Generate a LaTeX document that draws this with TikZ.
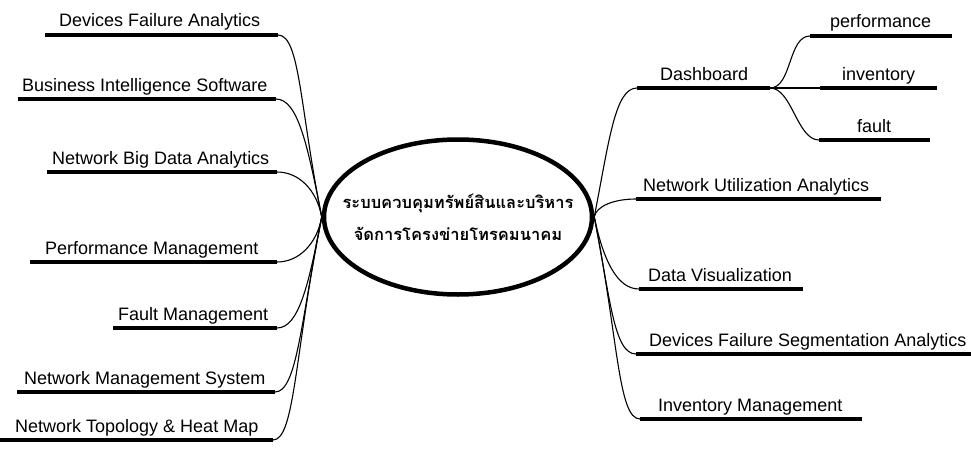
\documentclass[tikz,border=0pt]{standalone}
\usepackage{fontspec}
\setmainfont{Liberation Sans}
\newfontfamily\thaifont[Script=Thai]{Loma}
\usetikzlibrary{shapes.geometric}
\begin{document}
\begin{tikzpicture}[x=1pt,y=-1pt,
  bar/.style={line width=4pt},
  conn/.style={line width=1.1pt},
  lbl/.style={anchor=base west,inner sep=0pt,font=\fontsize{18}{21}\selectfont},
  hub/.style={ellipse,draw,line width=4.5pt,minimum width=268pt,minimum height=155pt,inner sep=0pt},
  hubtext/.style={inner sep=0pt,align=center,font=\thaifont\bfseries\fontsize{16.5}{32}\selectfont}]
\useasboundingbox (0,0) rectangle (971,452);
\node[hub] (c) at (458,217) {};
\node[hubtext] (ct) at (c.center) {ระบบควบคุมทรัพย์สินและบริหาร\\จัดการโครงข่ายโทรคมนาคม};
% left branches
\coordinate (la1) at (45,35);  \coordinate (lb1) at (278,35);
\coordinate (la2) at (18,99);  \coordinate (lb2) at (276,99);
\coordinate (la3) at (47,172); \coordinate (lb3) at (277,172);
\coordinate (la4) at (30,262); \coordinate (lb4) at (277,262);
\coordinate (la5) at (113,328);\coordinate (lb5) at (277,328);
\coordinate (la6) at (17,392); \coordinate (lb6) at (275,392);
\coordinate (la7) at (0,440);  \coordinate (lb7) at (273,440);
\node[lbl] (t1) at (59,27) {Devices Failure Analytics};
\node[lbl] (t2) at (22,91) {Business Intelligence Software};
\node[lbl] (t3) at (52,164) {Network Big Data Analytics};
\node[lbl] (t4) at (45,254) {Performance Management};
\node[lbl] (t5) at (118,320) {Fault Management};
\node[lbl] (t6) at (24,384) {Network Management System};
\node[lbl] (t7) at (15,432) {Network Topology \& Heat Map};
\foreach \i in {1,...,7} {\draw[bar] (la\i) -- (lb\i);}
\draw[conn] (lb1) .. controls +(22,0) and +(-22,-109) .. (c.west);
\draw[conn] (lb2) .. controls +(22,0) and +(-14,-71) .. (c.west);
\draw[conn] (lb3) .. controls +(22,0) and +(-5,-27) .. (c.west);
\draw[conn] (lb4) .. controls +(22,0) and +(-5,27) .. (c.west);
\draw[conn] (lb5) .. controls +(22,0) and +(-13,67) .. (c.west);
\draw[conn] (lb6) .. controls +(22,0) and +(-21,105) .. (c.west);
\draw[conn] (lb7) .. controls +(22,0) and +(-27,134) .. (c.west);
% right branches
\coordinate (ra1) at (637,88);  \coordinate (rb1) at (770,88);
\coordinate (ra2) at (636,199); \coordinate (rb2) at (881,199);
\coordinate (ra3) at (639,289); \coordinate (rb3) at (803,289);
\coordinate (ra4) at (636,354); \coordinate (rb4) at (971,354);
\coordinate (ra5) at (640,419); \coordinate (rb5) at (862,419);
\node[lbl] (u1) at (660,80) {Dashboard};
\node[lbl] (u2) at (643,191) {Network Utilization Analytics};
\node[lbl] (u3) at (648,281) {Data Visualization};
\node[lbl] (u4) at (649,346) {Devices Failure Segmentation Analytics};
\node[lbl] (u5) at (658,411) {Inventory Management};
\foreach \i in {1,...,5} {\draw[bar] (ra\i) -- (rb\i);}
\draw[conn] (ra1) .. controls +(-22,0) and +(15,-77) .. (c.east);
\draw[conn] (ra2) .. controls +(-22,0) and +(2,-11) .. (c.east);
\draw[conn] (ra3) .. controls +(-22,0) and +(9,43) .. (c.east);
\draw[conn] (ra4) .. controls +(-22,0) and +(16,82) .. (c.east);
\draw[conn] (ra5) .. controls +(-22,0) and +(24,121) .. (c.east);
% dashboard sub-branches
\coordinate (sa1) at (810,36);  \coordinate (sb1) at (952,36);
\coordinate (sa2) at (820,88);  \coordinate (sb2) at (937,88);
\coordinate (sa3) at (819,140); \coordinate (sb3) at (930,140);
\node[lbl] (v1) at (830,28) {performance};
\node[lbl] (v2) at (842,80) {inventory};
\node[lbl] (v3) at (857,132) {fault};
\foreach \i in {1,...,3} {\draw[bar] (sa\i) -- (sb\i);}
\draw[conn] (rb1) .. controls +(22,0) and +(-22,0) .. (sa1);
\draw[conn] (rb1) -- (sa2);
\draw[conn] (rb1) .. controls +(22,0) and +(-22,0) .. (sa3);
\end{tikzpicture}
\end{document}
